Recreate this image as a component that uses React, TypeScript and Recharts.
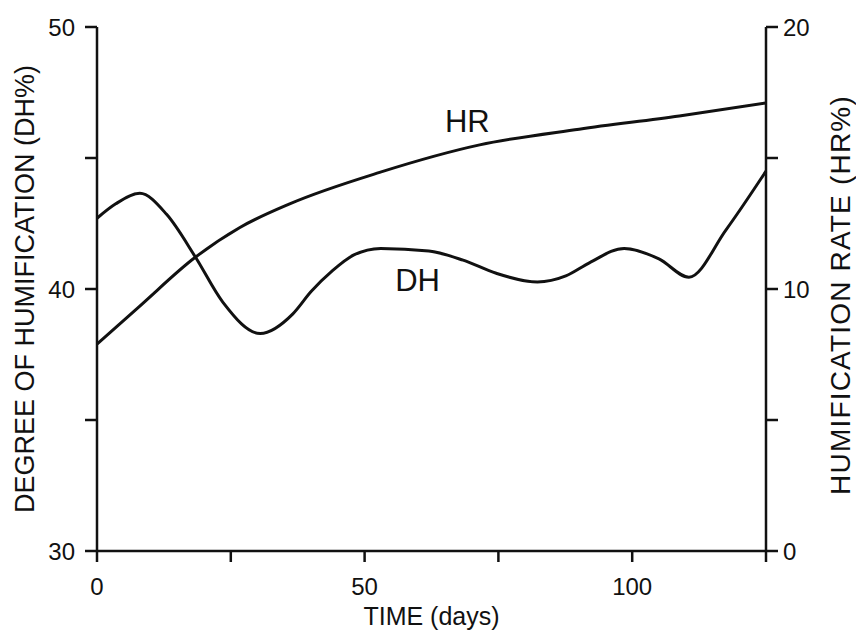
import { LineChart, Line, XAxis, YAxis, Label, ReferenceDot } from 'recharts'

// time axis (days)
const xTicks = [0, 25, 50, 75, 100, 125]
const xLabelled = [0, 50, 100]

// degree of humification, left axis
const dhTicks = [30, 35, 40, 45, 50]
const dhLabelled = [30, 40, 50]
const dhDays = [0, 3.5, 8, 13, 18.3, 23.5, 30.5, 36.6, 40, 44, 48, 53, 62, 68.4, 74.6, 82.3, 87.6, 92, 98.5, 105, 110.6, 117.5, 125]
const dhValues = [42.7, 43.25, 43.65, 42.85, 41.25, 39.5, 38.3, 39.05, 39.9, 40.7, 41.3, 41.55, 41.45, 41.1, 40.6, 40.27, 40.5, 41.0, 41.55, 41.15, 40.45, 42.25, 44.5]

// humification rate, right axis
const hrTicks = [0, 5, 10, 15, 20]
const hrLabelled = [0, 10, 20]
const hrDays = [0, 8, 18.3, 26.7, 36, 52.8, 71.5, 90.1, 108.8, 125]
const hrValues = [7.9, 9.35, 11.2, 12.35, 13.25, 14.45, 15.5, 16.1, 16.6, 17.1]

const dhData = dhDays.map((t, i) => ({ t, dh: dhValues[i] }))
const hrData = hrDays.map((t, i) => ({ t, hr: hrValues[i] }))

const FONT = '"Liberation Sans", Arial, sans-serif'
const INK = '#111'
const tickStyle = { fontSize: 24, fill: INK, fontFamily: FONT }
const only = (list: number[]) => (v: number) => (list.includes(v) ? String(v) : '')

export default function App() {
  return (
    <div style={{ position: 'absolute', left: 0, top: 0, background: '#fff' }}>
      <LineChart width={856} height={634} margin={{ top: 27, right: 0, bottom: 0, left: 0 }}>
        <XAxis
          type="number"
          dataKey="t"
          domain={[0, 125]}
          ticks={xTicks}
          tickFormatter={only(xLabelled)}
          tick={tickStyle}
          tickSize={11}
          tickMargin={16}
          height={83}
          stroke={INK}
          strokeWidth={2.5}
          allowDuplicatedCategory={false}
        >
          <Label
            content={({ viewBox }: any) => (
              <text x={viewBox.x + viewBox.width / 2} y={625} textAnchor="middle" fontSize={25} fontFamily={FONT} fill={INK}>
                TIME (days)
              </text>
            )}
          />
        </XAxis>
        <YAxis
          yAxisId="dh"
          orientation="left"
          domain={[30, 50]}
          ticks={dhTicks}
          tickFormatter={only(dhLabelled)}
          tick={tickStyle}
          tickSize={12}
          tickMargin={10}
          width={97}
          stroke={INK}
          strokeWidth={2.5}
        >
          <Label
            content={({ viewBox }: any) => {
              const cy = viewBox.y + viewBox.height / 2
              return (
                <text x={25} y={cy} transform={`rotate(-90 25 ${cy})`} textAnchor="middle" dominantBaseline="central" fontSize={27} fontFamily={FONT} fill={INK}>
                  DEGREE OF HUMIFICATION (DH%)
                </text>
              )
            }}
          />
        </YAxis>
        <YAxis
          yAxisId="hr"
          orientation="right"
          domain={[0, 20]}
          ticks={hrTicks}
          tickFormatter={only(hrLabelled)}
          tick={tickStyle}
          tickSize={12}
          tickMargin={5}
          width={90}
          stroke={INK}
          strokeWidth={2.5}
        >
          <Label
            content={({ viewBox }: any) => {
              const cy = viewBox.y + viewBox.height / 2 + 6
              return (
                <text x={840} y={cy} transform={`rotate(-90 840 ${cy})`} textAnchor="middle" dominantBaseline="central" fontSize={28} letterSpacing={1.2} fontFamily={FONT} fill={INK}>
                  HUMIFICATION RATE (HR%)
                </text>
              )
            }}
          />
        </YAxis>
        <Line
          yAxisId="dh"
          data={dhData}
          dataKey="dh"
          type="monotone"
          stroke={INK}
          strokeWidth={3}
          dot={false}
          isAnimationActive={false}
        />
        <Line
          yAxisId="hr"
          data={hrData}
          dataKey="hr"
          type="monotone"
          stroke={INK}
          strokeWidth={3}
          dot={false}
          isAnimationActive={false}
        />
        <ReferenceDot yAxisId="hr" x={69.2} y={16.4} r={0} fill="none" stroke="none"
          label={{ value: 'HR', position: 'center', fontSize: 31, fill: INK, fontFamily: FONT }} />
        <ReferenceDot yAxisId="dh" x={59.9} y={40.36} r={0} fill="none" stroke="none"
          label={{ value: 'DH', position: 'center', fontSize: 31, fill: INK, fontFamily: FONT }} />
      </LineChart>
    </div>
  )
}
